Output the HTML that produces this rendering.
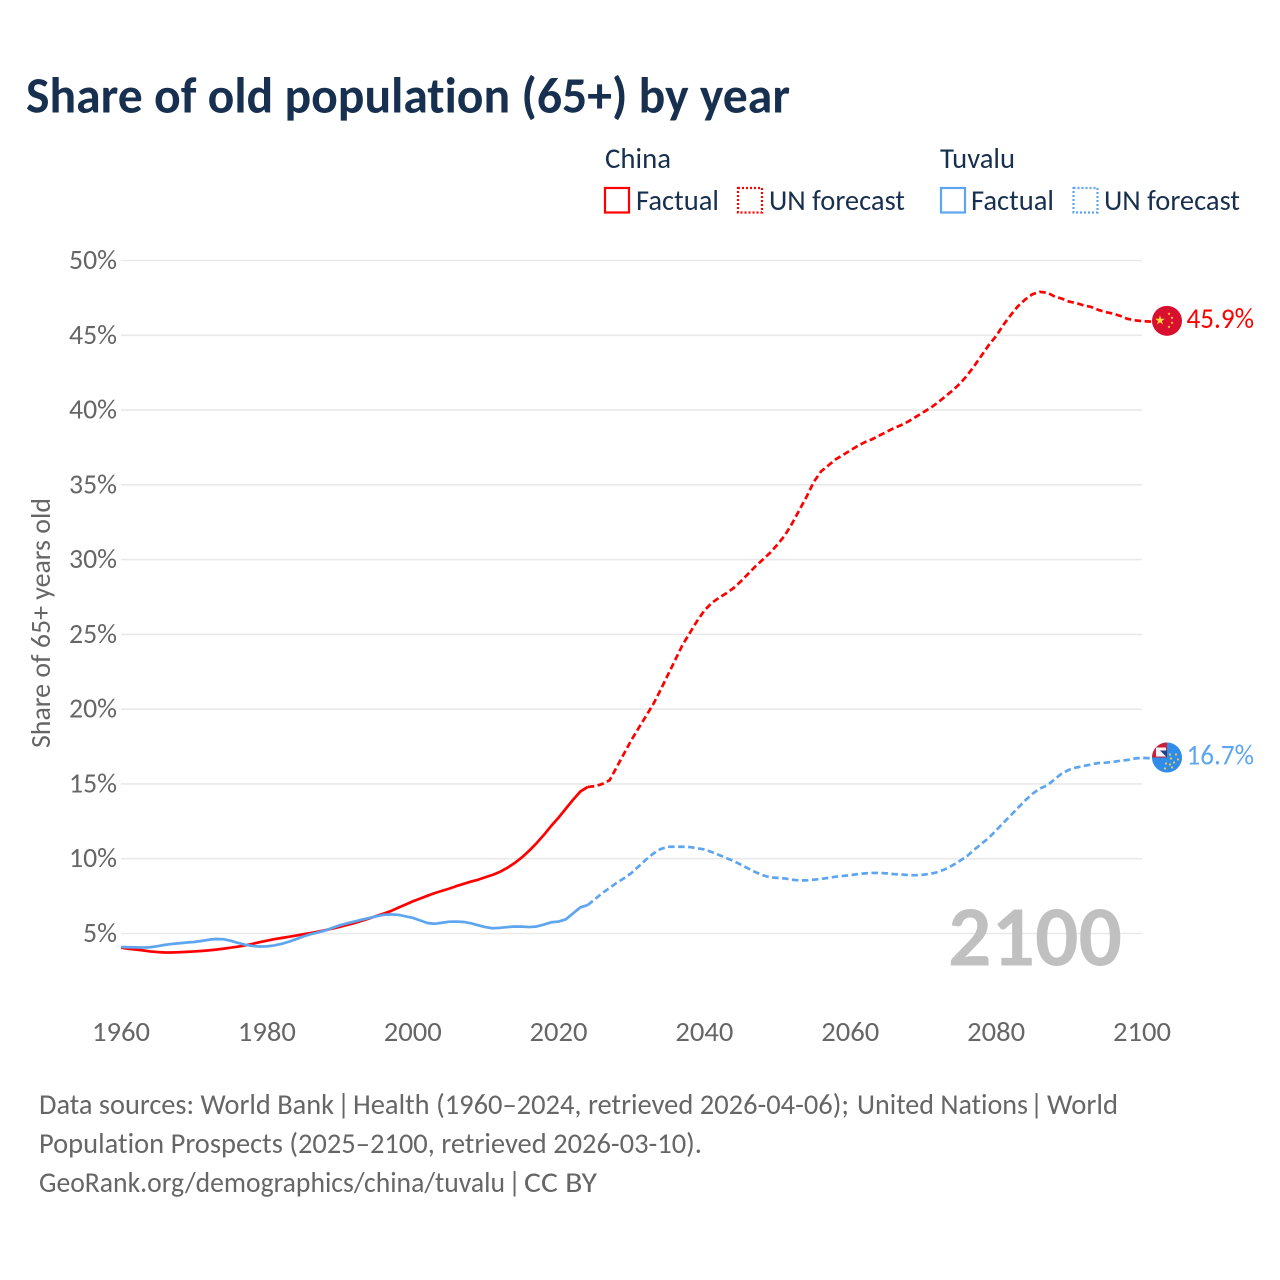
<!DOCTYPE html>
<html lang="en">
<head>
<meta charset="utf-8">
<title>Share of old population (65+) by year</title>
<style>
html,body{margin:0;padding:0;background:#fff;}
svg{display:block;font-family:"Carlito","Liberation Sans",sans-serif;font-variant-ligatures:none;}
</style>
</head>
<body>
<svg id="chart" xmlns="http://www.w3.org/2000/svg" width="1280" height="1280" viewBox="0 0 1280 1280">
  <rect x="0" y="0" width="1280" height="1280" fill="#ffffff"/>
  <text x="26" y="112.6" font-size="51" font-weight="700" fill="#18304f" textLength="764" lengthAdjust="spacingAndGlyphs">Share of old population (65+) by year</text>

  <g font-size="28.5" fill="#18304f">
    <text x="605" y="168" textLength="66" lengthAdjust="spacingAndGlyphs">China</text>
    <text x="940" y="168" textLength="75" lengthAdjust="spacingAndGlyphs">Tuvalu</text>
    <rect x="605" y="188" width="24" height="24.5" fill="none" stroke="#ff0000" stroke-width="2.2"/>
    <text x="636" y="210" textLength="83" lengthAdjust="spacingAndGlyphs">Factual</text>
    <rect x="738" y="188" width="24" height="24.5" fill="none" stroke="#ff0000" stroke-width="2.2" stroke-dasharray="2 2"/>
    <text x="769" y="210" textLength="136" lengthAdjust="spacingAndGlyphs">UN forecast</text>
    <rect x="941" y="188" width="24" height="24.5" fill="none" stroke="#5ea5ef" stroke-width="2.2"/>
    <text x="971" y="210" textLength="83" lengthAdjust="spacingAndGlyphs">Factual</text>
    <rect x="1073.5" y="188" width="24" height="24.5" fill="none" stroke="#5ea5ef" stroke-width="2.2" stroke-dasharray="2 2"/>
    <text x="1104" y="210" textLength="136" lengthAdjust="spacingAndGlyphs">UN forecast</text>
  </g>

  <g id="grid"></g>
  <g id="y-axis" font-size="27.5" fill="#666666" text-anchor="end"></g>
  <g id="x-axis" font-size="27.5" fill="#666666" text-anchor="middle"></g>
  <text transform="translate(50,623) rotate(-90)" font-size="27.5" fill="#666666" text-anchor="middle" textLength="250" lengthAdjust="spacingAndGlyphs">Share of 65+ years old</text>

  <text x="948" y="965.5" font-size="86" font-weight="700" fill="#c0c0c0" textLength="174" lengthAdjust="spacingAndGlyphs">2100</text>

  <g id="series"></g>
  <g id="end-labels"></g>

  <g font-size="28.5" fill="#666666">
    <text y="1114"><tspan x="39" textLength="295" lengthAdjust="spacingAndGlyphs">Data sources: World Bank</tspan> <tspan x="337">|</tspan> <tspan x="353" textLength="496" lengthAdjust="spacingAndGlyphs">Health (1960–2024, retrieved 2026-04-06);</tspan> <tspan x="857" textLength="171" lengthAdjust="spacingAndGlyphs">United Nations</tspan> <tspan x="1030">|</tspan> <tspan x="1047" textLength="71" lengthAdjust="spacingAndGlyphs">World</tspan></text>
    <text x="39" y="1153" textLength="663" lengthAdjust="spacingAndGlyphs">Population Prospects (2025–2100, retrieved 2026-03-10).</text>
    <text y="1192"><tspan x="39" textLength="466" lengthAdjust="spacingAndGlyphs">GeoRank.org/demographics/china/tuvalu</tspan> <tspan x="508">|</tspan> <tspan x="524" textLength="73" lengthAdjust="spacingAndGlyphs">CC BY</tspan></text>
  </g>
</svg>
<script>
const yTicks = [5, 10, 15, 20, 25, 30, 35, 40, 45, 50];
const xTicks = [1960, 1980, 2000, 2020, 2040, 2060, 2080, 2100];
const factualStartYear = 1960;
const forecastStartYear = 2024;
const chinaFactual = [4.05,3.98,3.93,3.87,3.8,3.76,3.73,3.73,3.75,3.77,3.8,3.83,3.87,3.92,3.98,4.05,4.12,4.2,4.3,4.42,4.52,4.62,4.7,4.78,4.86,4.95,5.03,5.12,5.22,5.33,5.45,5.57,5.7,5.85,6.0,6.17,6.33,6.5,6.72,6.93,7.15,7.33,7.52,7.7,7.85,8.0,8.17,8.32,8.47,8.6,8.77,8.93,9.13,9.4,9.72,10.1,10.55,11.05,11.6,12.2,12.75,13.35,13.95,14.5,14.8];
const chinaForecast = [14.8,14.85,15.0,15.25,16.15,17.05,17.95,18.75,19.55,20.35,21.3,22.3,23.3,24.3,25.1,25.9,26.6,27.1,27.45,27.75,28.1,28.55,29.05,29.55,30.0,30.45,31.0,31.6,32.4,33.3,34.2,35.2,35.9,36.3,36.7,37.0,37.3,37.6,37.85,38.05,38.3,38.55,38.8,39.0,39.25,39.55,39.85,40.15,40.5,40.9,41.3,41.75,42.3,42.95,43.65,44.35,44.95,45.7,46.35,46.95,47.4,47.75,47.9,47.85,47.6,47.45,47.25,47.15,47.0,46.9,46.7,46.55,46.45,46.3,46.1,46.0,45.95];
const tuvaluFactual = [4.1,4.08,4.07,4.06,4.08,4.15,4.24,4.3,4.35,4.4,4.43,4.5,4.58,4.63,4.62,4.52,4.38,4.25,4.17,4.13,4.14,4.2,4.3,4.45,4.62,4.8,4.95,5.07,5.2,5.38,5.55,5.68,5.8,5.92,6.03,6.15,6.25,6.28,6.25,6.15,6.05,5.88,5.7,5.65,5.72,5.79,5.8,5.77,5.68,5.55,5.42,5.35,5.38,5.43,5.47,5.46,5.43,5.47,5.6,5.75,5.8,5.95,6.35,6.75,6.9];
const tuvaluForecast = [6.9,7.3,7.7,8.05,8.4,8.7,9.05,9.5,9.95,10.35,10.65,10.8,10.8,10.8,10.78,10.7,10.62,10.45,10.25,10.05,9.85,9.6,9.35,9.1,8.9,8.75,8.72,8.68,8.6,8.55,8.55,8.6,8.65,8.72,8.8,8.85,8.9,8.97,9.02,9.05,9.05,9.02,8.97,8.95,8.9,8.9,8.93,9.0,9.1,9.3,9.55,9.85,10.17,10.6,11.0,11.4,11.9,12.4,12.9,13.4,13.9,14.35,14.7,14.9,15.3,15.7,15.95,16.1,16.2,16.3,16.4,16.42,16.47,16.55,16.6,16.7,16.75];
const endValues = [45.9, 16.7];

const NS = "http://www.w3.org/2000/svg";
function xScale(year) { return 121 + (year - 1960) * (1142 - 121) / 140; }
function yScale(pct) { return 933.5 - (pct - 5) * (933.5 - 260.5) / 45; }
function make(tag, attrs, parent) {
  const el = document.createElementNS(NS, tag);
  for (const k in attrs) el.setAttribute(k, attrs[k]);
  parent.appendChild(el);
  return el;
}
function linePath(values, startYear) {
  return values.map(function (v, i) {
    return (i ? "L" : "M") + xScale(startYear + i).toFixed(2) + " " + yScale(v).toFixed(2);
  }).join(" ");
}

const gridG = document.getElementById("grid");
const yG = document.getElementById("y-axis");
const xG = document.getElementById("x-axis");
const seriesG = document.getElementById("series");
const endG = document.getElementById("end-labels");

yTicks.forEach(function (t) {
  const line = make("line", { x1: xScale(1960), x2: xScale(2100), y1: yScale(t), y2: yScale(t), stroke: "#e9e9e9", "stroke-width": 1.6 }, gridG);
  
  
  const label = make("text", { x: 117, y: yScale(t) + 8.5, textLength: t < 10 ? 34 : 48, lengthAdjust: "spacingAndGlyphs" }, yG);
  label.textContent = t + "%";
  
  
});
xTicks.forEach(function (t) {
  const label = make("text", { x: xScale(t), y: 1041, textLength: 58, lengthAdjust: "spacingAndGlyphs" }, xG);
  label.textContent = t;
  
  
});

function drawSeries(factual, forecast, color, endValue) {
  const f = make("path", { d: linePath(factual, factualStartYear), fill: "none", stroke: color, "stroke-width": 2.7, "stroke-linejoin": "round" }, seriesG);
  
  
  const lastYear = forecastStartYear + forecast.length - 1;
  const p = make("path", {
    d: linePath(forecast, forecastStartYear) + " L" + (xScale(lastYear) + 12) + " " + yScale(endValue),
    fill: "none", stroke: color, "stroke-width": 2.7, "stroke-dasharray": "6.5 3.5"
  }, seriesG);
  
  
}
drawSeries(chinaFactual, chinaForecast, "#ff0000", endValues[0]);
drawSeries(tuvaluFactual, tuvaluForecast, "#5ea5ef", endValues[1]);

function star(cx, cy, r, parent) {
  const pts = [];
  for (let i = 0; i < 10; i++) {
    const a = -Math.PI / 2 + i * Math.PI / 5;
    const q = i % 2 ? r * 0.4 : r;
    pts.push((cx + q * Math.cos(a)).toFixed(2) + "," + (cy + q * Math.sin(a)).toFixed(2));
  }
  return make("polygon", { points: pts.join(" "), fill: "#ffd83a" }, parent);
}

const fx = 1167;
const cy1 = yScale(endValues[0]) - 1;
const chinaFlag = make("g", {}, endG);


make("circle", { cx: fx, cy: cy1, r: 15, fill: "#d80f2e" }, chinaFlag);
star(fx - 7, cy1 - 0.5, 5, chinaFlag);
star(fx + 2, cy1 - 7, 1.7, chinaFlag);
star(fx + 5, cy1 - 3, 1.7, chinaFlag);
star(fx + 5, cy1 + 2, 1.7, chinaFlag);
star(fx + 2, cy1 + 6, 1.7, chinaFlag);

const cy2 = yScale(endValues[1]) - 1;
const tuvaluFlag = make("g", {}, endG);


make("circle", { cx: fx, cy: cy2, r: 15, fill: "#2f8ce8" }, tuvaluFlag);
make("path", { d: "M" + (fx - 15) + " " + cy2 + " A15 15 0 0 1 " + fx + " " + (cy2 - 15) + " L" + fx + " " + cy2 + " Z", fill: "#cf1f35" }, tuvaluFlag);
make("rect", { x: fx - 11, y: cy2 - 10, width: 10, height: 9, fill: "#f4f4f8" }, tuvaluFlag);
make("path", { d: "M" + (fx - 7) + " " + (cy2 - 7) + " L" + fx + " " + (cy2 - 7) + " L" + fx + " " + cy2 + " Z", fill: "#27407f" }, tuvaluFlag);
[[4, 1], [7, 5], [3, 7], [-1, 6], [9, -3], [11, 2], [5, 10], [-2, 11], [3, -3]].forEach(function (o) {
  make("circle", { cx: fx + o[0], cy: cy2 + o[1], r: 1.1, fill: "#f2c94c" }, tuvaluFlag);
});

const endColors = ["#ff0000", "#5ea5ef"];
endValues.forEach(function (v, i) {
  const label = make("text", { x: 1186.5, y: yScale(v) + 6, "font-size": 28.5, fill: endColors[i], textLength: 67.5, lengthAdjust: "spacingAndGlyphs" }, endG);
  label.textContent = v.toFixed(1) + "%";
  
  
});
</script>
</body>
</html>
